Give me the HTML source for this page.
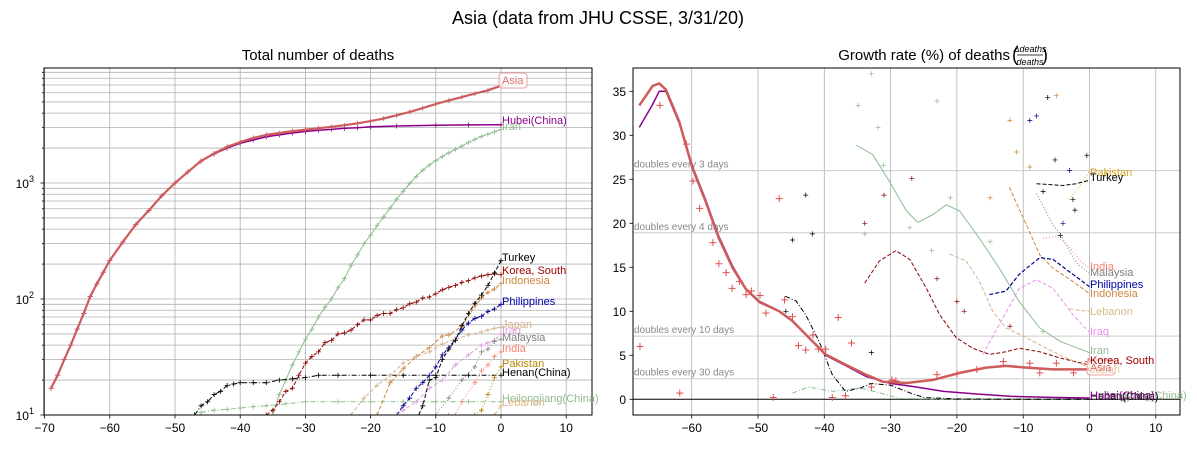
<!DOCTYPE html>
<html><head><meta charset="utf-8"><style>
body{margin:0;background:#fff}
svg{display:block;font-family:"Liberation Sans","DejaVu Sans",sans-serif}
</style></head><body>
<svg id="c" width="1197" height="450" viewBox="0 0 1197 450">
<rect width="1197" height="450" fill="#fff"/>
<text x="598" y="24" font-size="18" text-anchor="middle">Asia (data from JHU CSSE, 3/31/20)</text>
<text x="318" y="60" font-size="15" text-anchor="middle">Total number of deaths</text>
<g>
<text x="1010" y="60" font-size="15" text-anchor="end">Growth rate (%) of deaths</text>
<text x="1012" y="61" font-size="18">(</text>
<text x="1030" y="52" font-size="9" font-style="italic" text-anchor="middle">Δdeaths</text>
<line x1="1017" y1="55" x2="1043" y2="55" stroke="#000" stroke-width="0.8"/>
<text x="1030" y="65" font-size="9" font-style="italic" text-anchor="middle">deaths</text>
<text x="1042" y="61" font-size="18">)</text>
</g>
<defs>
<clipPath id="clipL"><rect x="44" y="68" width="548" height="347"/></clipPath>
<clipPath id="clipR"><rect x="633" y="68" width="547" height="347"/></clipPath>
</defs>
<g id="L"></g>
<g id="R"></g>
</svg>
<script>
// ---------- LEFT: total deaths (log) ----------
const leftXTicks=[-70,-60,-50,-40,-30,-20,-10,0,10];
const leftYDecades=[1,2,3];
const tAsia=[[-69,17],[-68,22],[-67,30],[-66,40],[-65,55],[-64,75],[-63,105],[-62,135],[-61,170],[-60,215],[-58,310],[-56,440],[-54,580],[-52,780],[-50,1000],[-48,1250],[-46,1550],[-44,1800],[-42,2050],[-40,2250],[-38,2450],[-36,2600],[-34,2700],[-32,2800],[-30,2880],[-28,2970],[-26,3050],[-24,3150],[-22,3270],[-20,3420],[-18,3600],[-16,3830],[-14,4100],[-12,4420],[-10,4800],[-8,5150],[-6,5500],[-4,5900],[-2,6300],[0,6900]];
const tHubei=[[-69,17],[-68,22],[-67,30],[-66,40],[-65,55],[-64,75],[-63,105],[-62,135],[-61,170],[-60,215],[-58,310],[-56,440],[-54,580],[-52,780],[-50,1000],[-48,1250],[-46,1540],[-44,1780],[-42,2000],[-40,2200],[-38,2350],[-36,2500],[-34,2600],[-32,2700],[-30,2780],[-28,2850],[-26,2900],[-24,2960],[-22,3000],[-20,3050],[-16,3100],[-10,3150],[-5,3170],[0,3180]];
const tIran=[[-35,10],[-34,15],[-33,20],[-32,27],[-31,35],[-30,45],[-29,55],[-28,70],[-27,85],[-26,100],[-25,125],[-24,150],[-23,195],[-22,240],[-21,300],[-20,355],[-19,430],[-18,510],[-17,610],[-16,725],[-15,850],[-14,990],[-13,1140],[-12,1290],[-11,1430],[-10,1560],[-9,1690],[-8,1820],[-7,1950],[-6,2080],[-5,2240],[-4,2380],[-3,2520],[-2,2640],[-1,2760],[0,2900]];
const tTurkey=[[-13,9],[-12,12],[-11,20],[-10,21],[-9,30],[-8,37],[-7,44],[-6,59],[-5,75],[-4,92],[-3,108],[-2,131],[-1,168],[0,214]];
const tKorea=[[-36,10],[-35,11],[-34,13],[-33,16],[-32,17],[-31,22],[-30,28],[-29,32],[-28,35],[-27,42],[-26,44],[-25,50],[-24,51],[-23,54],[-22,60],[-21,66],[-20,66],[-19,72],[-18,75],[-17,75],[-16,81],[-15,84],[-14,91],[-13,94],[-12,102],[-11,104],[-10,111],[-9,120],[-8,126],[-7,131],[-6,139],[-5,144],[-4,152],[-3,158],[-2,162],[-1,165],[0,162]];
const tIndonesia=[[-19,10],[-17,19],[-15,25],[-13,32],[-11,38],[-9,48],[-8,49],[-6,58],[-4,87],[-3,102],[-2,114],[-1,122],[0,136]];
const tPhilippines=[[-16,10],[-15,12],[-14,14],[-13,17],[-12,19],[-11,22],[-10,26],[-9,33],[-8,38],[-7,45],[-6,54],[-5,62],[-4,68],[-3,71],[-2,78],[-1,82],[0,90]];
const tJapan=[[-23,10],[-21,14],[-19,18],[-17,22],[-15,28],[-13,32],[-11,35],[-9,41],[-7,45],[-5,49],[-3,52],[-2,54],[-1,56],[0,57]];
const tIraq=[[-16,10],[-15,11],[-13,13],[-11,17],[-9,20],[-7,27],[-5,33],[-3,40],[-2,42],[-1,44],[0,50]];
const tMalaysia=[[-10,10],[-8,14],[-6,20],[-4,26],[-3,35],[-2,37],[-1,43],[0,45]];
const tIndia=[[-8,10],[-7,10],[-6,13],[-4,19],[-3,24],[-2,27],[-1,32],[0,35]];
const tPakistan=[[-4,10],[-3,11],[-2,15],[-1,21],[0,26]];
const tHenan=[[-47,10],[-46,12],[-45,13],[-44,15],[-43,16],[-42,18],[-41,18.5],[-40,19],[-38,19],[-36,19],[-34,20],[-32,20.5],[-30,21],[-28,22],[-25,22],[-20,22],[-15,22],[-10,22],[-5,22],[0,22]];
const tHeilong=[[-46,10.5],[-44,11],[-42,11.2],[-40,11.5],[-38,11.8],[-36,12],[-33,12.5],[-30,13],[-25,13],[-20,13],[-15,13],[-10,13],[-5,13],[0,13]];
const tLebanon=[[-3,8],[-1,10],[0,12]];

// ---------- RIGHT: growth rate ----------
const rightXTicks=[-60,-50,-40,-30,-20,-10,0,10];
const rightYTicks=[0,5,10,15,20,25,30,35];
const doublingDays=[3,4,10,30];
const gAsia=[[-67.9,33.4],[-65.9,35.6],[-64.9,35.9],[-63.9,35.2],[-61.9,31.6],[-59.9,26.3],[-57.9,22.5],[-55.9,18.3],[-53.8,14.9],[-51.8,12.5],[-49.8,11.1],[-46.8,10.0],[-44.8,8.9],[-41.8,6.6],[-39.8,5.1],[-36.7,3.9],[-33.7,2.8],[-31.2,2.0],[-27.6,1.85],[-23.6,2.2],[-19.6,3.0],[-15.6,3.6],[-12.6,3.8],[-9.5,3.6],[-5.5,3.4],[0,3.4]];
const gHubei=[[-67.9,30.9],[-65.9,33.5],[-64.9,35.0],[-63.9,35.0],[-61.9,31.4],[-59.9,26.5],[-57.9,22.7],[-55.9,18.5],[-53.8,15.1],[-51.8,12.5],[-49.8,11.0],[-46.8,10.0],[-44.8,8.9],[-41.8,6.6],[-39.8,5.0],[-36.7,3.8],[-33.7,2.6],[-30,1.8],[-27,1.5],[-22,0.9],[-17,0.6],[-12,0.34],[-5,0.2],[0,0.15]];
const gIran=[[-35.2,28.9],[-32.7,27.8],[-30.2,24.8],[-27.6,21.4],[-25.9,20.1],[-23.6,21.0],[-21.6,22.1],[-19.6,21.4],[-16.6,18.3],[-13.6,14.9],[-10.6,11.1],[-7.5,8.1],[-4.5,6.6],[0,5.3]];
const gKorea=[[-33.9,13.2],[-31.7,15.7],[-29.2,16.9],[-27.1,15.9],[-24.6,12.6],[-22.6,9.6],[-20.1,7.0],[-17.6,5.8],[-15.1,5.1],[-12.6,5.4],[-10.6,5.8],[-7.5,5.4],[-4.5,4.7],[0,3.9]];
const gJapan=[[-21.1,16.5],[-18.6,15.7],[-16.6,13.4],[-14.6,10.0],[-12.6,8.1],[-9.5,7.0],[-6.5,5.8],[-3.5,4.7],[0,3.6]];
const gPhilippines=[[-15.1,11.9],[-12.6,12.3],[-10.6,14.2],[-7.5,16.1],[-5.5,15.9],[-2.5,14.2],[0,12.8]];
const gIraq=[[-16.1,5.1],[-13.6,8.5],[-10.6,12.6],[-8.0,13.6],[-5.5,12.6],[-2.5,9.6],[0,7.6]];
const gIndonesia=[[-12.1,24.1],[-9.5,19.8],[-7.5,16.4],[-5.5,14.9],[-2.5,13.4],[0,12.0]];
const gMalaysia=[[-8.0,23.4],[-5.5,19.8],[-4.5,18.9],[-2.0,15.5],[0,14.3]];
const gIndia=[[-7.0,18.3],[-5.0,18.5],[-3.0,17.3],[-1.5,15.8],[0,14.9]];
const gTurkey=[[-8,24.5],[-6,24.4],[-4,24.3],[-2,24.5],[0,24.9]];
const gPakistan=[[-3.1,22.7],[-1.5,24.2],[0,25.9]];
const gHenan=[[-45.9,11.7],[-44.3,11.2],[-42.8,9.6],[-40.8,6.6],[-38.8,2.8],[-36.8,0.9],[-34.5,1.3],[-33,1.8],[-30,1.6],[-27,0.7],[-25,0.2],[-20,0.05],[-10,0],[0,0]];
const gHeilong=[[-44.8,0.7],[-42.4,1.4],[-38.8,0.9],[-34.7,1.3],[-31.5,0.7],[-28.7,0.1],[-20,0],[0,0]];
const gLebanon=[[-3,10.3],[-1.5,10.1],[0,10.0]];
// raw daily growth points (scatter)
const sAsia=[[-67.8,6.0],[-64.8,33.4],[-61.8,0.7],[-60.8,29.0],[-59.8,24.8],[-58.8,21.7],[-56.8,17.8],[-55.9,15.4],[-54.8,14.4],[-53.9,12.6],[-52.8,13.4],[-51.8,11.9],[-51,12.3],[-49.7,11.8],[-48.8,9.8],[-47.7,0.2],[-46.8,22.8],[-46,11.3],[-44.8,9.4],[-43.9,6.1],[-42.8,5.6],[-41.7,7.3],[-40.9,5.7],[-39.8,5.7],[-38.8,0.2],[-37.9,9.3],[-36.8,0.4],[-35.9,6.4],[-32.9,1.4],[-29.8,2.2],[-29.2,2.1],[-23,2.8],[-20,2.9],[-17,3.4],[-13,4.3],[-9,4.1],[-7.5,3.0],[-5,4.1],[-2.4,3.0],[-0.2,4.3]];
const sBlack=[[-45.8,10.0],[-44.8,18.1],[-42.8,23.2],[-41.8,18.8],[-32.9,5.3],[-7,23.6],[-6.3,34.3],[-5.2,27.2],[-4.4,18.6],[-2.5,22.7],[-2.2,21.5],[-0.4,27.7]];
const sGreen=[[-34.9,33.4],[-33.9,18.8],[-32.9,37.0],[-31.9,30.9],[-31.1,26.6],[-27.1,19.5],[-23.8,16.9],[-23,33.9],[-21,22.9],[-15,17.9],[-7,7.7]];
const sDarkRed=[[-33.9,20.0],[-31,23.2],[-26.8,25.1],[-23,13.7],[-20,11.1],[-18.9,10.0],[-12,8.3]];
const sOrange=[[-15,22.9],[-12,31.7],[-11,28.1],[-9,26.4],[-5,34.5]];
const sBlue=[[-9,31.7],[-8,32.2],[-4,20.0],[-3,26.0]];

const NS="http://www.w3.org/2000/svg";
function mk(parent,tag,attrs,txt){const e=document.createElementNS(NS,tag);for(const k in attrs)e.setAttribute(k,attrs[k]);if(txt!==undefined)e.textContent=txt;parent.appendChild(e);return e;}
const L=document.getElementById('L'),R=document.getElementById('R');
const xL=d=>501+d*6.52, yL=v=>415-(Math.log10(v)-1)*116;
const xR=d=>1089.5+d*6.63, yR=g=>399.3-g*8.8;
const GRID="#b0b0b0";

// left grid
for(const t of leftXTicks){
  const x=xL(t);
  const gl=mk(L,'line',{x1:x,x2:x,y1:68,y2:415,stroke:GRID,'stroke-width':0.8});
  
  
  mk(L,'line',{x1:x,x2:x,y1:415,y2:418.5,stroke:'#000','stroke-width':0.8});
  const tl=mk(L,'text',{x:x,y:432,'font-size':12,'text-anchor':'middle'},t<0?'\u2212'+(-t):String(t));
  
  
}
for(const d of leftYDecades){
  for(let m=1;m<=9;m++){
    const v=m*Math.pow(10,d); const y=yL(v); if(y<68)continue;
    const gl=mk(L,'line',{x1:44,x2:592,y1:y,y2:y,stroke:GRID,'stroke-width':0.8});
    
    
    mk(L,'line',{x1:44,x2:m==1?40.5:42,y1:y,y2:y,stroke:'#000','stroke-width':0.8});
  }
  const y=yL(Math.pow(10,d));
  const tl=mk(L,'text',{x:34,y:y+5,'font-size':12,'text-anchor':'end'});
  
  
  mk(tl,'tspan',{},'10');
  mk(tl,'tspan',{dy:-6,'font-size':9},String(d));
}
function cross(g,x,y,c,s,w){mk(g,'path',{d:`M${x-s} ${y}H${x+s}M${x} ${y-s}V${y+s}`,stroke:c,'stroke-width':w||0.8,fill:'none'});}
function series(parent,clip,data,fx,fy,color,w,dash,name,marks){
  const g=mk(parent,'g',{'clip-path':`url(#${clip})`});
  
  
  const pts=data.map(p=>fx(p[0]).toFixed(1)+','+fy(p[1]).toFixed(1)).join(' ');
  const a={points:pts,fill:'none',stroke:color,'stroke-width':w,'stroke-linejoin':'round'};
  if(dash)a['stroke-dasharray']=dash;
  mk(g,'polyline',a);
  if(marks)for(const p of data)cross(g,fx(p[0]),fy(p[1]),color,2.5);
}
function scatter(parent,data,color,s,w,name){
  const g=mk(parent,'g',{'clip-path':'url(#clipR)'});
  
  
  for(const p of data)cross(g,xR(p[0]),yR(p[1]),color,s,w);
}
function label(parent,x,y,txt,color,name){
  const t=mk(parent,'text',{x:x,y:y+4,'font-size':11,fill:color},txt);
  
  
}
const DASH='4,2', DOT='1,2', DD='5,2,1,2';
const left=[[tIran,'#8fbc8f',1,null,'iran'],[tHeilong,'#8fbc8f',1,DD,'heilongjiang'],[tHenan,'#000',1,DD,'henan'],[tKorea,'#8b0000',1,DASH,'korea'],[tIndonesia,'#cd853f',1,DASH,'indonesia'],[tPhilippines,'#00008b',1,DASH,'philippines'],[tJapan,'#d2b48c',1,DASH,'japan'],[tIraq,'#dda0dd',1,DASH,'iraq'],[tMalaysia,'#808080',1,DOT,'malaysia'],[tIndia,'#fa8072',1,DOT,'india'],[tPakistan,'#b8860b',1,DOT,'pakistan'],[tLebanon,'#deb887',1,DASH,'lebanon'],[tTurkey,'#000',1,DASH,'turkey'],[tHubei,'#8b008b',1.5,null,'hubei'],[tAsia,'#cd5c5c',2.2,null,'asia']];
for(const s of left)series(L,'clipL',s[0],xL,yL,s[1],s[2],s[3],'left-line-'+s[4],true);
mk(L,'rect',{x:44,y:68,width:548,height:347,fill:'none',stroke:'#000','stroke-width':1});
const lx=502;
const ab=mk(L,'rect',{x:499,y:73,width:28,height:15,rx:3,fill:'#fff','fill-opacity':0.7,stroke:'#e8a0a0','stroke-width':1});


const leftLabels=[['Asia',80,'#e07070'],['Hubei(China)',120,'#8b008b'],['Iran',126,'#8fbc8f'],['Turkey',257,'#000'],['Korea, South',270,'#a00000'],['Indonesia',280,'#cd853f'],['Philippines',301,'#0000aa'],['Japan',324,'#d2b48c'],['Iraq',330,'#dda0dd'],['Malaysia',337,'#808080'],['India',348,'#fa8072'],['Pakistan',363,'#b8860b'],['Henan(China)',372,'#000'],['Heilongjiang(China)',398,'#8fbc8f'],['Lebanon',402,'#deb887']];
for(const l of leftLabels)label(L,lx,l[1],l[0],l[2],'left-label-'+l[0].toLowerCase().replace(/[^a-z]+/g,'-'));

// right grid
for(const t of rightXTicks){
  const x=xR(t);
  const gl=mk(R,'line',{x1:x,x2:x,y1:68,y2:415,stroke:GRID,'stroke-width':0.8});
  
  
  mk(R,'line',{x1:x,x2:x,y1:415,y2:418.5,stroke:'#000','stroke-width':0.8});
  const tl=mk(R,'text',{x:x,y:432,'font-size':12,'text-anchor':'middle'},t<0?'\u2212'+(-t):String(t));
  
  
}
for(const t of rightYTicks){
  const y=yR(t);
  mk(R,'line',{x1:633,x2:629.5,y1:y,y2:y,stroke:'#000','stroke-width':0.8});
  const tl=mk(R,'text',{x:626,y:y+4.5,'font-size':12,'text-anchor':'end'},String(t));
  
  
}
for(const n of doublingDays){
  const g=(Math.pow(2,1/n)-1)*100, y=yR(g);
  const gl=mk(R,'line',{x1:633,x2:1180,y1:y,y2:y,stroke:'#cccccc','stroke-width':1});
  
  
  const tl=mk(R,'text',{x:634,y:y-3,'font-size':10,fill:'#888'},'doubles every '+n+' days');
  
  
}
const zl=mk(R,'line',{x1:633,x2:1180,y1:yR(0),y2:yR(0),stroke:'#000','stroke-width':1});


scatter(R,sGreen,'#8fbc8f',2.5,0.7,'right-points-iran');
scatter(R,sDarkRed,'#8b0000',2.5,0.7,'right-points-korea');
scatter(R,sOrange,'#cd853f',2.5,0.7,'right-points-indonesia');
scatter(R,sBlue,'#00008b',2.5,0.7,'right-points-philippines');
scatter(R,sBlack,'#000',2.5,0.7,'right-points-turkey');
const right=[[gIran,'#8fbc8f',1,null,'iran'],[gHeilong,'#8fbc8f',1,DD,'heilongjiang'],[gHenan,'#000',1,DD,'henan'],[gKorea,'#8b0000',1,DASH,'korea'],[gJapan,'#d2b48c',1,DASH,'japan'],[gIndonesia,'#cd853f',1,DASH,'indonesia'],[gPhilippines,'#00008b',1.2,DASH,'philippines'],[gIraq,'#ee90ee',1,DASH,'iraq'],[gMalaysia,'#808080',1,DOT,'malaysia'],[gIndia,'#fa8072',1,DOT,'india'],[gPakistan,'#daa520',1,DOT,'pakistan'],[gLebanon,'#deb887',1,DASH,'lebanon'],[gTurkey,'#000',1,DASH,'turkey'],[gHubei,'#8b008b',1.5,null,'hubei'],[gAsia,'#cd5c5c',2.5,null,'asia']];
for(const s of right)series(R,'clipR',s[0],xR,yR,s[1],s[2],s[3],'right-line-'+s[4],false);
scatter(R,sAsia,'#e05050',3.5,1,'right-points-asia');
mk(R,'rect',{x:633,y:68,width:547,height:347,fill:'none',stroke:'#000','stroke-width':1});
const rx=1090;
const rb=mk(R,'rect',{x:1087,y:360,width:28,height:15,rx:3,fill:'#fff','fill-opacity':0.6,stroke:'#e8a0a0','stroke-width':1});


const rightLabels=[['Pakistan',172,'#daa520'],['Turkey',177,'#000'],['India',266,'#fa8072'],['Malaysia',272,'#808080'],['Philippines',284,'#0000aa'],['Indonesia',293,'#cd853f'],['Lebanon',311,'#deb887'],['Iraq',331,'#ee90ee'],['Iran',350,'#8fbc8f'],['Korea, South',360,'#a00000'],['Japan',369,'#e8c8a8'],['Asia',367,'#e07070'],['Heilongjiang(China)',395,'#8fbc8f'],['Henan(China)',396,'#000'],['Hubei(China)',395,'#8b008b']];
for(const l of rightLabels)label(R,rx,l[1],l[0],l[2],'right-label-'+l[0].toLowerCase().replace(/[^a-z]+/g,'-'));
</script>
</body></html>
